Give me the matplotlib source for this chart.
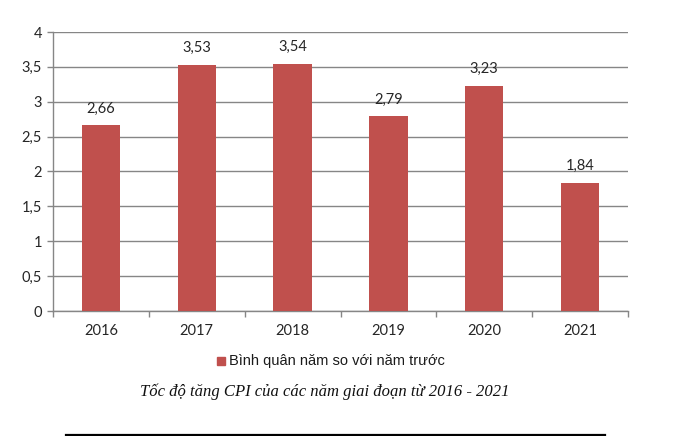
import matplotlib
matplotlib.use("Agg")
import matplotlib.pyplot as plt
from matplotlib.patches import Rectangle
from matplotlib.lines import Line2D

years = ["2016", "2017", "2018", "2019", "2020", "2021"]
values = [2.66, 3.53, 3.54, 2.79, 3.23, 1.84]
value_labels = ["2,66", "3,53", "3,54", "2,79", "3,23", "1,84"]
yticks = [0, 0.5, 1, 1.5, 2, 2.5, 3, 3.5, 4]
ytick_labels = ["0", "0,5", "1", "1,5", "2", "2,5", "3", "3,5", "4"]
legend_label = "Bình quân năm so với năm trước"
caption = "Tốc độ tăng CPI của các năm giai đoạn từ 2016 - 2021"

W, H = 695, 436
fig = plt.figure(figsize=(W / 100, H / 100), dpi=100)
ax = fig.add_axes([53 / W, (H - 311) / H, 575 / W, 279 / H])

bar_color = "#C0504D"
grid_color = "#868686"
text_color = "#262626"
tick_font = "Lato"

x = list(range(len(years)))
ax.bar(x, values, width=0.4, color=bar_color, zorder=3)

ax.set_xlim(-0.5, len(years) - 0.5)
ax.set_ylim(0, 4)
ax.set_yticks(yticks)
ax.set_yticklabels(ytick_labels, fontfamily=tick_font, fontsize=10.5, color=text_color)
ax.set_xticks(x)
ax.set_xticklabels(years, fontfamily=tick_font, fontsize=10.5, color=text_color)
ax.set_xticks([i - 0.5 for i in range(len(years) + 1)], minor=True)
ax.tick_params(axis="x", which="major", length=0, pad=9)
ax.tick_params(axis="x", which="minor", length=4, color=grid_color, width=1)
ax.tick_params(axis="y", which="major", length=4, color=grid_color, width=1, pad=4)

ax.grid(axis="y", color=grid_color, linewidth=1, zorder=0)
ax.set_axisbelow(True)
for s in ["top", "right"]:
    ax.spines[s].set_visible(False)
for s in ["left", "bottom"]:
    ax.spines[s].set_color(grid_color)
    ax.spines[s].set_linewidth(1)

for xi, v, lab in zip(x, values, value_labels):
    ax.annotate(lab, (xi, v), xytext=(0, 7), textcoords="offset points",
                ha="center", va="bottom", fontfamily=tick_font, fontsize=10.5,
                color=text_color)

# legend
fig.patches.append(Rectangle((217 / W, 1 - 365 / H), 8 / W, 8 / H,
                             transform=fig.transFigure, color=bar_color))
fig.text(229 / W, 1 - 361 / H, legend_label, fontfamily="Liberation Sans",
         fontsize=10.5, color="#1a1a1a", va="center", ha="left")

# caption
fig.text(324.5 / W, 1 - 392 / H, caption, fontfamily="Liberation Serif",
         style="italic", fontsize=12, color="#111111", va="center", ha="center")

# bottom rule
fig.lines.append(Line2D([66 / W, 605 / W], [1 - 434.5 / H, 1 - 434.5 / H],
                        transform=fig.transFigure, color="black", linewidth=1.6))

fig.savefig("out.png", dpi=100)
